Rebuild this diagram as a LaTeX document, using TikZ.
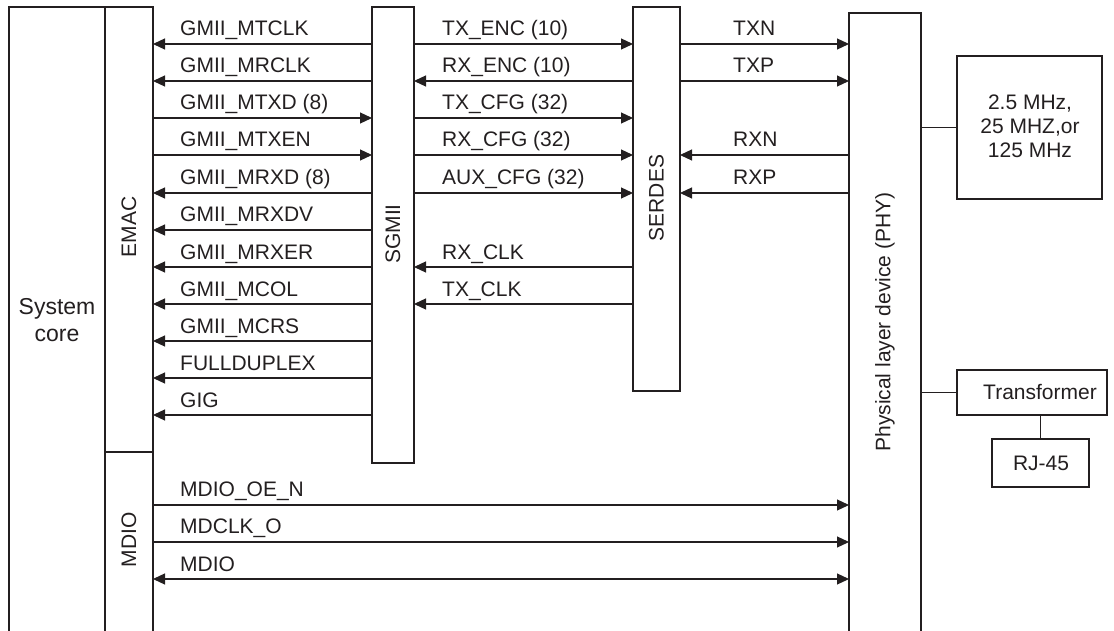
\documentclass[tikz,border=0pt]{standalone}
\usepackage{fontspec}
\setmainfont{Liberation Sans}
\usetikzlibrary{arrows.meta}
\definecolor{ink}{HTML}{231F20}
\tikzset{
  >={Triangle[length=12pt,width=11pt]},
  box/.style={draw=ink, line width=1.2pt, inner sep=0pt, outer sep=0pt, anchor=north west},
  txt/.style={text=ink, font=\fontsize{21}{24}\selectfont, inner sep=0pt},
  lbl/.style={txt, anchor=base west},
  rot/.style={txt, rotate=90, anchor=center},
  sig/.style={draw=ink, line width=1.2pt, ->},
  dsig/.style={draw=ink, line width=1.2pt, <->},
  wire/.style={draw=ink, line width=1.2pt},
}
\begin{document}
\begin{tikzpicture}[x=1pt,y=-1pt]
\clip (0,0) rectangle (1114,631);
% boxes
\node[box,minimum width=96pt,minimum height=640pt] (sys) at (9,7) {};
\node[box,minimum width=48pt,minimum height=445pt] (emac) at (105,7) {};
\node[box,minimum width=48pt,minimum height=200pt] (mdio) at (105,452) {};
\node[box,minimum width=42pt,minimum height=456pt] (sgmii) at (372,7) {};
\node[box,minimum width=47pt,minimum height=384pt] (serdes) at (633,7) {};
\node[box,minimum width=72pt,minimum height=640pt] (phy) at (849,13) {};
\node[box,minimum width=145pt,minimum height=143pt] (clk) at (957,56) {};
\node[box,minimum width=150pt,minimum height=45pt] (trans) at (957,370) {};
\node[box,minimum width=97pt,minimum height=48pt] (rj) at (992,439) {};
% box texts
\node[txt,align=center,font=\fontsize{23}{27}\selectfont] (syst) at (57,320) {System\\core};
\node[rot] (emact) at (129,227) {EMAC};
\node[rot] (mdiot) at (129,540) {MDIO};
\node[rot] (sgmiit) at (393,234) {SGMII};
\node[rot] (serdest) at (656.5,198) {SERDES};
\node[rot] (phyt) at (885,322) {Physical layer device (PHY)};
\node[txt,align=center] (clkt) at (1030,126) {2.5 MHz,\\25 MHZ,or\\125 MHz};
\node[txt] (transt) at (1040,392) {Transformer};
\node[txt] (rjt) at (1041,463) {RJ-45};
% rows
\coordinate (r1) at (0,44);
\coordinate (r2) at (0,81);
\coordinate (r3) at (0,118);
\coordinate (r4) at (0,155);
\coordinate (r5) at (0,193);
\coordinate (r6) at (0,230);
\coordinate (r7) at (0,267);
\coordinate (r8) at (0,304);
\coordinate (r9) at (0,341);
\coordinate (r10) at (0,378);
\coordinate (r11) at (0,415);
\coordinate (m1) at (0,505);
\coordinate (m2) at (0,542);
\coordinate (m3) at (0,579);
% EMAC <-> SGMII
\draw[sig] (sgmii.west |- r1) -- (emac.east |- r1);
\draw[sig] (sgmii.west |- r2) -- (emac.east |- r2);
\draw[sig] (emac.east |- r3) -- (sgmii.west |- r3);
\draw[sig] (emac.east |- r4) -- (sgmii.west |- r4);
\draw[sig] (sgmii.west |- r5) -- (emac.east |- r5);
\draw[sig] (sgmii.west |- r6) -- (emac.east |- r6);
\draw[sig] (sgmii.west |- r7) -- (emac.east |- r7);
\draw[sig] (sgmii.west |- r8) -- (emac.east |- r8);
\draw[sig] (sgmii.west |- r9) -- (emac.east |- r9);
\draw[sig] (sgmii.west |- r10) -- (emac.east |- r10);
\draw[sig] (sgmii.west |- r11) -- (emac.east |- r11);
\node[lbl] (a1) at (180,36) {GMII\_MTCLK};
\node[lbl] (a2) at (180,73) {GMII\_MRCLK};
\node[lbl] (a3) at (180,110) {GMII\_MTXD (8)};
\node[lbl] (a4) at (180,147) {GMII\_MTXEN};
\node[lbl] (a5) at (180,185) {GMII\_MRXD (8)};
\node[lbl] (a6) at (180,222) {GMII\_MRXDV};
\node[lbl] (a7) at (180,259) {GMII\_MRXER};
\node[lbl] (a8) at (180,296) {GMII\_MCOL};
\node[lbl] (a9) at (180,333) {GMII\_MCRS};
\node[lbl] (a10) at (180,370) {FULLDUPLEX};
\node[lbl] (a11) at (180,407) {GIG};
% SGMII <-> SERDES
\draw[sig] (sgmii.east |- r1) -- (serdes.west |- r1);
\draw[sig] (serdes.west |- r2) -- (sgmii.east |- r2);
\draw[sig] (sgmii.east |- r3) -- (serdes.west |- r3);
\draw[sig] (sgmii.east |- r4) -- (serdes.west |- r4);
\draw[sig] (sgmii.east |- r5) -- (serdes.west |- r5);
\draw[sig] (serdes.west |- r7) -- (sgmii.east |- r7);
\draw[sig] (serdes.west |- r8) -- (sgmii.east |- r8);
\node[lbl] (b1) at (442,36) {TX\_ENC (10)};
\node[lbl] (b2) at (442,73) {RX\_ENC (10)};
\node[lbl] (b3) at (442,110) {TX\_CFG (32)};
\node[lbl] (b4) at (442,147) {RX\_CFG (32)};
\node[lbl] (b5) at (442,185) {AUX\_CFG (32)};
\node[lbl] (b7) at (442,259) {RX\_CLK};
\node[lbl] (b8) at (442,296) {TX\_CLK};
% SERDES <-> PHY
\draw[sig] (serdes.east |- r1) -- (phy.west |- r1);
\draw[sig] (serdes.east |- r2) -- (phy.west |- r2);
\draw[sig] (phy.west |- r4) -- (serdes.east |- r4);
\draw[sig] (phy.west |- r5) -- (serdes.east |- r5);
\node[lbl] (c1) at (733,36) {TXN};
\node[lbl] (c2) at (733,73) {TXP};
\node[lbl] (c4) at (733,147) {RXN};
\node[lbl] (c5) at (733,185) {RXP};
% MDIO <-> PHY
\draw[sig] (mdio.east |- m1) -- (phy.west |- m1);
\draw[sig] (mdio.east |- m2) -- (phy.west |- m2);
\draw[dsig] (mdio.east |- m3) -- (phy.west |- m3);
\node[lbl] (d1) at (180,496) {MDIO\_OE\_N};
\node[lbl] (d2) at (180,533) {MDCLK\_O};
\node[lbl] (d3) at (180,571) {MDIO};
% PHY side links
\draw[wire] (phy.east |- clk.west) -- (clk.west);
\draw[wire] (phy.east |- trans.west) -- (trans.west);
\draw[wire] (rj.north) -- (rj.north |- trans.south);
\end{tikzpicture}
\end{document}
